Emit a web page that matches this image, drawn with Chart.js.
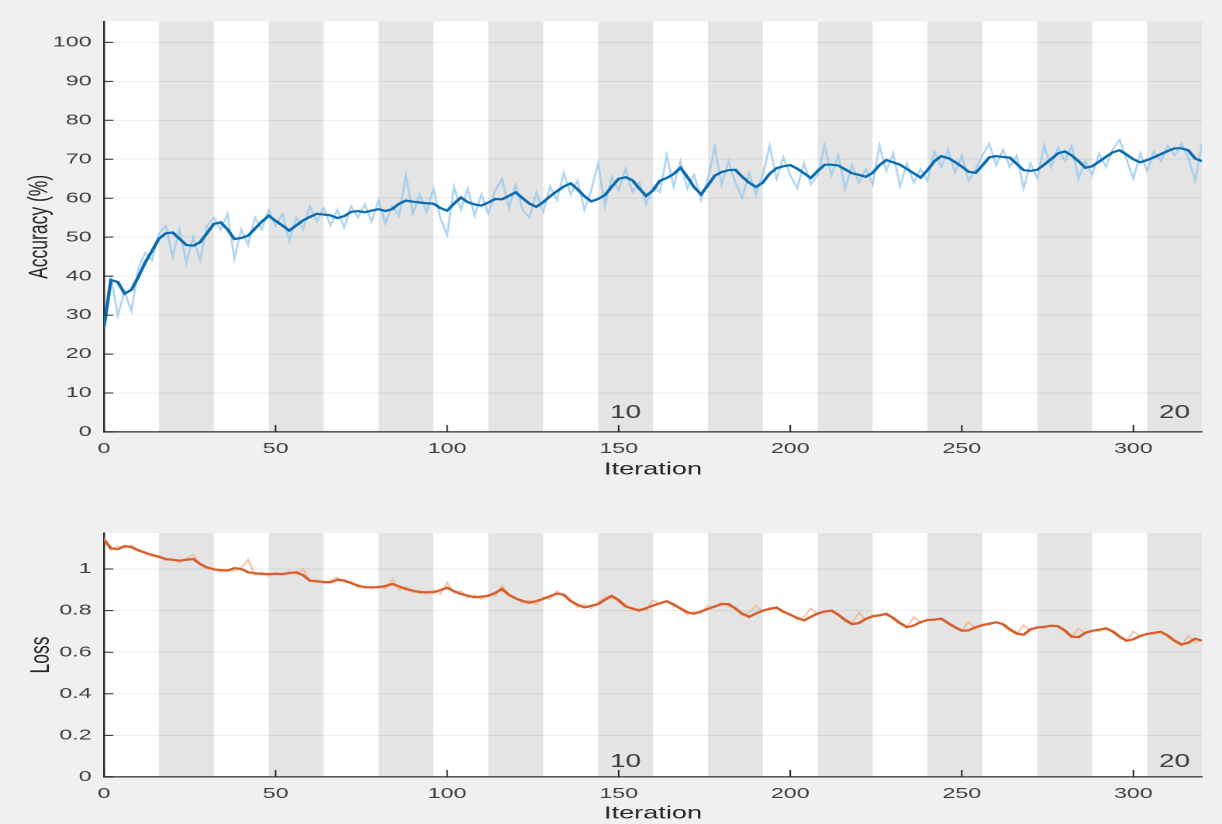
<!DOCTYPE html>
<html>
<head>
<meta charset="utf-8">
<script src="https://cdn.jsdelivr.net/npm/chart.js@4.4.1/dist/chart.umd.min.js"></script>
<style>
  html, body { margin: 0; padding: 0; background: #f0f0f0; }
  body { width: 1222px; height: 824px; overflow: hidden; position: relative; }
  /* the source screenshot is stretched sideways, so draw narrow and stretch */
  .wrap { position: absolute; left: 0; width: 788px; transform: scaleX(1.55076); transform-origin: 0 0; }
  #accWrap { top: 0; height: 490px; }
  #lossWrap { top: 490px; height: 334px; }
</style>
</head>
<body>
<div class="wrap" id="accWrap"><canvas id="accChart"></canvas></div>
<div class="wrap" id="lossWrap"><canvas id="lossChart"></canvas></div>
<script>
// one value every STEP iterations, starting at iteration 0
const STEP = 2;

const accSmooth = [
  27, 39, 38.5, 35.5, 36.5, 39.8, 43.5, 46.5, 49.6, 51,
  51.2, 49.6, 48, 47.8, 48.7, 51, 53.4, 53.8, 52, 49.5,
  49.8, 50.4, 52.2, 54, 55.5, 54.2, 53, 51.7, 53, 54.3,
  55.2, 56, 55.8, 55.6, 54.9, 55.4, 56.5, 56.7, 56.4, 56.8,
  57.2, 56.7, 57.2, 58.6, 59.4, 59.1, 58.9, 58.7, 58.6, 57.5,
  56.8, 58.6, 60.2, 59, 58.4, 58.1, 58.9, 59.8, 59.7, 60.6,
  61.5, 60, 58.6, 57.8, 59, 60.5, 61.8, 63, 63.8, 62.3,
  60.5, 59.2, 59.8, 60.8, 63, 65, 65.4, 64.6, 62.5, 60.6,
  62, 64.5, 65.2, 66.2, 67.8, 65.5, 62.8, 61, 63.3, 65.8,
  66.7, 67.2, 67.3, 65.5, 64, 62.9, 64, 66.3, 67.7, 68.2,
  68.5, 67.6, 66.4, 65.2, 67, 68.6, 68.6, 68.4, 67.4, 66.4,
  66, 65.5, 66.5, 68.5, 69.8, 69.2, 68.6, 67.5, 66.4, 65.3,
  67.2, 69.5, 70.8, 70.3, 69.3, 68.1, 66.8, 66.5, 68.4, 70.5,
  70.8, 70.6, 70.4, 68.8, 67.2, 67, 67.3, 68.6, 70, 71.5,
  72, 71, 69.5, 67.8, 68.2, 69.4, 70.6, 71.8, 72.3, 71.2,
  70, 69.2, 69.8, 70.5, 71.3, 72.1, 72.8, 72.8, 72.3, 70.2,
  69.5
];

const accRaw = [
  27, 40, 30, 36, 31, 42, 46, 44, 51, 53,
  45, 52, 43.5, 50, 44, 53, 55, 52, 56, 44.5,
  52, 48, 55, 52, 57, 53, 56, 49, 55, 52,
  58, 54, 57.5, 53, 57, 52.5, 58, 55, 58.5, 54,
  59.5, 53.5, 58, 55.5, 66, 56, 61, 56.5, 62.5, 55,
  50.5, 63, 57, 62.5, 55.5, 61, 56, 62, 65, 57.5,
  63.5, 57, 55, 61.5, 56.5, 63, 59.5, 66.5, 61, 64.5,
  57, 62, 69, 58, 65.5, 62, 67.5, 61.5, 64, 58.5,
  63, 61.5, 71, 63, 69.5, 62.5, 66, 59.5, 65, 73,
  63.5, 69.5, 64, 60, 66.5, 61, 66, 73.5, 65, 70.5,
  66, 62.5, 69, 63.5, 66, 73.5, 66, 71, 62.5, 68.5,
  64, 67.5, 63.5, 73.5, 67, 71.5, 63, 69, 64, 67.5,
  64.5, 72, 68, 72.5, 66.5, 71, 64.5, 67.5, 71, 74,
  68.5, 72.5, 68, 71, 62.5, 69, 65, 73.5, 68, 73,
  69.5, 73.5, 65, 69.5, 66, 71.5, 68, 72.5, 75, 70,
  65, 71.5, 67, 72, 69.5, 73.5, 71, 74, 70.5, 64.5,
  74
];

const lossSmooth = [
  1.14, 1.10, 1.095, 1.11, 1.105, 1.09, 1.078, 1.068, 1.058, 1.048,
  1.044, 1.04, 1.044, 1.048, 1.024, 1.008, 0.998, 0.995, 0.992, 1.004,
  1.0, 0.984, 0.98, 0.976, 0.976, 0.976, 0.976, 0.98, 0.984, 0.97,
  0.944, 0.94, 0.938, 0.936, 0.948, 0.945, 0.932, 0.92, 0.912, 0.912,
  0.912, 0.918, 0.928, 0.916, 0.904, 0.896, 0.888, 0.888, 0.888, 0.898,
  0.91, 0.893, 0.88, 0.872, 0.864, 0.867, 0.871, 0.885, 0.904, 0.876,
  0.858, 0.846, 0.838, 0.846, 0.856, 0.869, 0.882, 0.876, 0.846, 0.828,
  0.815, 0.823, 0.831, 0.852, 0.87, 0.85, 0.82, 0.81, 0.8, 0.812,
  0.824, 0.835, 0.845, 0.83, 0.81, 0.792, 0.785, 0.796, 0.808, 0.82,
  0.831, 0.831, 0.81, 0.785, 0.77, 0.786, 0.8, 0.808, 0.815, 0.795,
  0.78, 0.765, 0.753, 0.77, 0.786, 0.795, 0.8, 0.78, 0.755, 0.735,
  0.74, 0.76, 0.772, 0.778, 0.784, 0.765, 0.74, 0.72, 0.728, 0.745,
  0.754, 0.757, 0.761, 0.74, 0.72, 0.703, 0.705, 0.72, 0.73, 0.737,
  0.744, 0.735, 0.71, 0.69, 0.684, 0.71, 0.718, 0.722, 0.727, 0.725,
  0.705, 0.675, 0.672, 0.693, 0.703, 0.708, 0.714, 0.7, 0.675, 0.655,
  0.662, 0.678, 0.688, 0.693, 0.698, 0.68, 0.655, 0.637, 0.645, 0.665,
  0.655
];

const lossRaw = [
  1.15, 1.09, 1.11, 1.10, 1.115, 1.085, 1.08, 1.06, 1.065, 1.04,
  1.05, 1.03, 1.05, 1.07, 1.02, 1.0, 1.005, 0.985, 1.0, 0.99,
  1.005, 1.045, 0.97, 0.985, 0.965, 0.985, 0.97, 0.99, 0.975, 1.0,
  0.94, 0.95, 0.93, 0.945, 0.96, 0.935, 0.94, 0.91, 0.92, 0.905,
  0.92, 0.905, 0.95, 0.9, 0.915, 0.885, 0.9, 0.88, 0.9, 0.88,
  0.935, 0.885, 0.895, 0.86, 0.875, 0.855, 0.88, 0.87, 0.92, 0.87,
  0.865, 0.835, 0.85, 0.83, 0.865, 0.855, 0.895, 0.87, 0.85, 0.815,
  0.83, 0.81, 0.84, 0.865, 0.875, 0.84, 0.83, 0.8, 0.81, 0.8,
  0.85, 0.83, 0.85, 0.82, 0.815, 0.78, 0.795, 0.785, 0.825, 0.815,
  0.84, 0.82, 0.815, 0.775, 0.79, 0.825, 0.795, 0.815, 0.81, 0.79,
  0.785, 0.755, 0.77, 0.81, 0.78, 0.8, 0.795, 0.785, 0.745, 0.74,
  0.79, 0.755, 0.78, 0.77, 0.79, 0.76, 0.735, 0.72, 0.77, 0.74,
  0.76, 0.75, 0.765, 0.735, 0.715, 0.705, 0.745, 0.715, 0.735, 0.73,
  0.745, 0.73, 0.705, 0.685, 0.73, 0.705, 0.725, 0.715, 0.73, 0.72,
  0.7, 0.67, 0.715, 0.69, 0.705, 0.7, 0.72, 0.695, 0.67, 0.655,
  0.7, 0.675, 0.69, 0.685, 0.7, 0.675, 0.65, 0.63, 0.68, 0.645,
  0.66
];

const iterTicks = [0, 50, 100, 150, 200, 250, 300];
const accTicks = [0, 10, 20, 30, 40, 50, 60, 70, 80, 90, 100];
const lossTicks = [0, 0.2, 0.4, 0.6, 0.8, 1];
const epochLabels = ['10', '20'];
const labelledEpochs = [10, 20];
const itersPerEpoch = 16;
const numEpochs = 20;

const SX = 1222 / 788;
const FONT = '"Liberation Sans", Arial, sans-serif';

const toPoints = vals => vals.map((v, i) => ({ x: i * STEP, y: v }));

// epoch bands, inward ticks and epoch numbers, MATLAB style
const epochBands = {
  id: 'epochBands',
  beforeDraw(chart) {
    const { ctx, chartArea: a, scales: { x } } = chart;
    ctx.save();
    ctx.fillStyle = '#ffffff';
    ctx.fillRect(a.left, a.top, a.width, a.height);
    ctx.fillStyle = '#e4e4e4';
    for (let e = 2; e <= numEpochs; e += 2) {
      const x0 = x.getPixelForValue((e - 1) * itersPerEpoch);
      const x1 = x.getPixelForValue(e * itersPerEpoch);
      ctx.fillRect(x0, a.top, x1 - x0, a.height);
    }
    ctx.restore();
  },
  afterDraw(chart, args, opts) {
    const { ctx, chartArea: a, scales: { x, y } } = chart;
    ctx.save();
    ctx.strokeStyle = '#262626';
    ctx.lineWidth = 1;
    ctx.beginPath();
    y.ticks.forEach(t => {
      const py = y.getPixelForValue(t.value);
      ctx.moveTo(a.left, py);
      ctx.lineTo(a.left + 6, py);
    });
    x.ticks.forEach(t => {
      const px = x.getPixelForValue(t.value);
      ctx.moveTo(px, a.bottom);
      ctx.lineTo(px, a.bottom - 7);
    });
    ctx.stroke();
    ctx.fillStyle = '#404040';
    ctx.font = '18px ' + FONT;
    ctx.textAlign = 'center';
    ctx.textBaseline = 'middle';
    labelledEpochs.forEach((e, i) => {
      const px = x.getPixelForValue((e - 0.5) * itersPerEpoch);
      ctx.fillText(epochLabels[i], px, a.bottom - opts.labelOffset);
    });
    ctx.restore();
  }
};

function trainingChart(id, o) {
  return new Chart(document.getElementById(id), {
    type: 'line',
    data: {
      datasets: [
        { data: toPoints(o.smooth), borderColor: o.color, borderWidth: 2.2, pointRadius: 0, tension: 0 },
        { data: toPoints(o.raw), borderColor: o.rawColor, borderWidth: 1.4, pointRadius: 0, tension: 0 }
      ]
    },
    plugins: [epochBands],
    options: {
      responsive: true,
      maintainAspectRatio: false,
      animation: false,
      devicePixelRatio: 2,
      layout: { padding: { top: o.top, right: 12.9, left: 0, bottom: 0 } },
      plugins: {
        legend: { display: false },
        tooltip: { enabled: false },
        epochBands: { labelOffset: o.labelOffset }
      },
      scales: {
        x: {
          type: 'linear',
          min: 0,
          max: 320,
          afterBuildTicks: s => { s.ticks = iterTicks.map(v => ({ value: v })); },
          afterFit: s => { s.height = o.xHeight; },
          grid: { display: false, drawTicks: false },
          border: { display: true, color: '#5a5a5a', width: 1.6 },
          ticks: { padding: 8, color: '#404040', font: { family: FONT, size: 15 }, maxRotation: 0, autoSkip: false },
          title: {
            display: true, text: 'Iteration', color: '#262626',
            font: { family: FONT, size: 17.5 }, padding: { top: 0, bottom: o.xTitlePad }
          }
        },
        y: {
          min: 0,
          max: o.yMax,
          afterBuildTicks: s => { s.ticks = o.ticks.map(v => ({ value: v })); },
          afterFit: s => { s.width = 104 / SX; },
          grid: { color: 'rgba(0,0,0,0.07)', drawTicks: false },
          border: { display: true, color: '#262626', width: 1.2 },
          ticks: { padding: 8, color: '#404040', font: { family: FONT, size: 15 }, callback: v => String(+v.toFixed(1)) },
          title: {
            display: true, text: o.title, color: '#262626',
            font: { family: FONT, size: 17.5 }, padding: { top: o.yTitlePad, bottom: 0 }
          }
        }
      }
    }
  });
}

trainingChart('accChart', {
  smooth: accSmooth, raw: accRaw,
  color: '#0b6db0', rawColor: 'rgba(150,200,238,0.75)',
  yMax: 105.3, ticks: accTicks, title: 'Accuracy (%)',
  top: 21.7, xHeight: 58, xTitlePad: 9.8, yTitlePad: 15, labelOffset: 19
});

trainingChart('lossChart', {
  smooth: lossSmooth, raw: lossRaw,
  color: '#d65f2e', rawColor: 'rgba(242,170,130,0.65)',
  yMax: 1.173, ticks: lossTicks, title: 'Loss',
  top: 43, xHeight: 47, xTitlePad: 0, yTitlePad: 16, labelOffset: 15
});
</script>
</body>
</html>
